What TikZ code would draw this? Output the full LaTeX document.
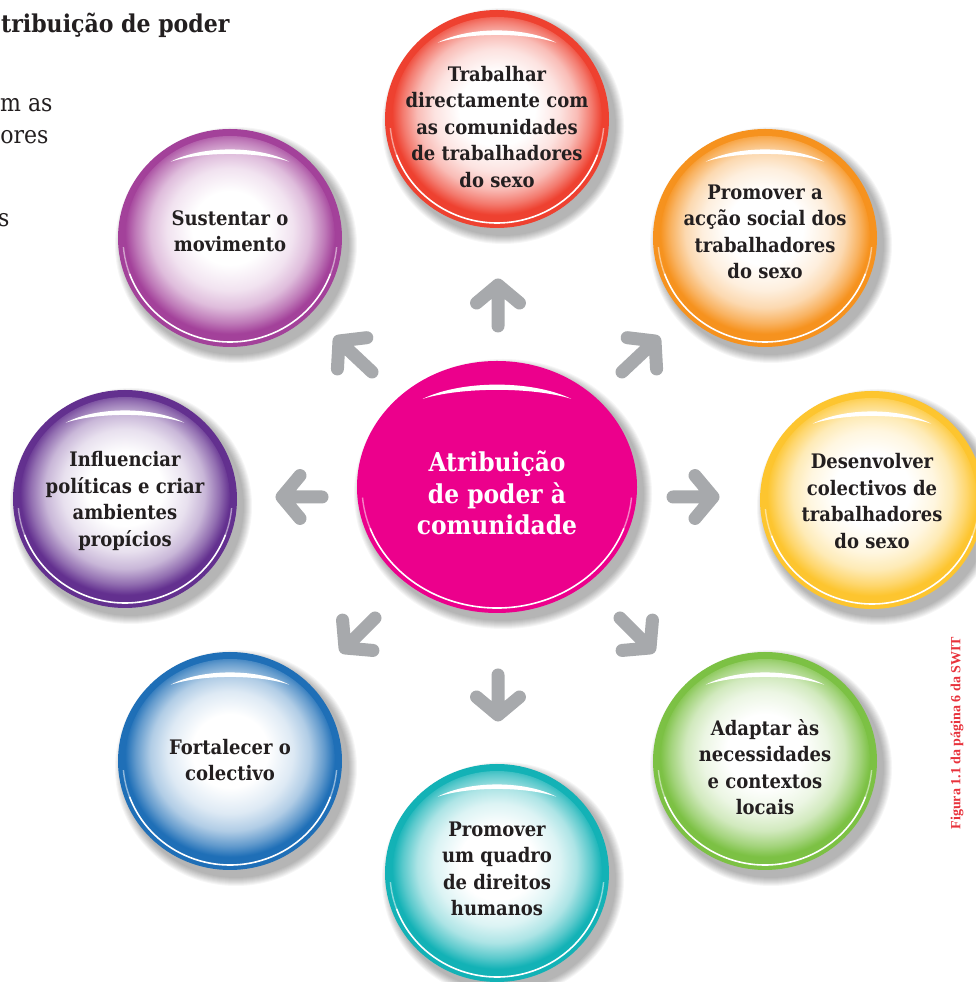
\documentclass[tikz,border=0pt]{standalone}
\usepackage{fontspec}
\setmainfont{DejaVu Serif Condensed}
\newfontfamily\capfont{Liberation Serif}
\usetikzlibrary{calc}
\definecolor{cRed}{HTML}{EE4130}
\definecolor{cOrange}{HTML}{F6921E}
\definecolor{cYellow}{HTML}{FDC52F}
\definecolor{cGreen}{HTML}{7CC144}
\definecolor{cTeal}{HTML}{13B2B6}
\definecolor{cBlue}{HTML}{1F6FB7}
\definecolor{cPurple}{HTML}{63308F}
\definecolor{cMauve}{HTML}{A3419A}
\definecolor{cMagenta}{HTML}{EC008C}
\definecolor{cGray}{HTML}{A7A9AC}
\definecolor{cCap}{HTML}{E8323C}
\definecolor{cInk}{HTML}{231F20}
\colorlet{bc}{cRed}
\pgfdeclareradialshading[bc]{bubble}{\pgfpoint{0bp}{3bp}}{color(0bp)=(white); color(9bp)=(white); color(15bp)=(bc!15!white); color(19bp)=(bc!35!white); color(22.5bp)=(bc!70!white); color(25bp)=(bc); color(50bp)=(bc)}

\newcommand{\drawbubble}[6]{% cx, cy, rx, ry, color, shaded?
  \colorlet{bc}{#5}%
  \foreach \k in {1,...,9}{\fill[black,opacity=0.035] (#1+6,#2-7) ellipse ({#3+\k} and {#4+\k});}
  \fill[bc] (#1,#2) ellipse ({#3} and {#4});
  \ifx#6y\shade[shading=bubble] (#1,#2) ellipse ({#3-7} and {#4-7});\fi
  \begin{scope}[shift={(#1,#2)}, xscale=#3, yscale=#4]
    \fill[white] (-0.53,0.70) .. controls (-0.25,0.85) and (0.25,0.85) .. (0.53,0.70)
       .. controls (0.25,0.795) and (-0.25,0.795) .. cycle;
  \end{scope}
  \draw[white, line width=1.6pt] (#1,#2) ++(200:{#3-5} and {#4-5})
     arc[start angle=200, end angle=340, x radius={#3-5}, y radius={#4-5}];
  \draw[white, opacity=0.5, line width=1.4pt] (#1,#2) ++(185:{#3-5} and {#4-5})
     arc[start angle=185, end angle=200, x radius={#3-5}, y radius={#4-5}];
  \draw[white, opacity=0.5, line width=1.4pt] (#1,#2) ++(340:{#3-5} and {#4-5})
     arc[start angle=340, end angle=355, x radius={#3-5}, y radius={#4-5}];
}

\tikzset{
  bubtext/.style={align=center, text=cInk, font=\bfseries\fontsize{20}{26.5}\selectfont},
  centext/.style={align=center, text=white, font=\bfseries\fontsize{26}{31.5}\selectfont},
  grayarrow/.style={draw=cGray, line width=13pt, line cap=round, line join=round},
  headtext/.style={anchor=east, text=cInk, font=\fontsize{24.5}{28}\selectfont}
}

\begin{document}
\begin{tikzpicture}[x=1pt,y=1pt]
\useasboundingbox (0,0) rectangle (975,982);
\fill[white] (0,0) rectangle (975,982);

% satellite bubbles
\drawbubble{497}{863}{112}{109}{cRed}{y}
\drawbubble{765}{744}{112}{109}{cOrange}{y}
\drawbubble{872}{482}{112}{109}{cYellow}{y}
\drawbubble{765}{221}{112}{109}{cGreen}{y}
\drawbubble{497}{109}{112}{109}{cTeal}{y}
\drawbubble{230}{221}{112}{109}{cBlue}{y}
\drawbubble{125}{483}{112}{109}{cPurple}{y}
\drawbubble{230}{744}{112}{109}{cMauve}{y}

% arrows
\coordinate (t1) at (498,656); \coordinate (p1) at (498,697);
\coordinate (t2) at (622,610); \coordinate (p2) at (655,641);
\coordinate (t3) at (673,485); \coordinate (p3) at (713,485);
\coordinate (t4) at (620,364); \coordinate (p4) at (650,334);
\coordinate (t5) at (498,307); \coordinate (p5) at (498,267);
\coordinate (t6) at (375,364); \coordinate (p6) at (345,334);
\coordinate (t7) at (322,485); \coordinate (p7) at (282,485);
\coordinate (t8) at (372,610); \coordinate (p8) at (339,641);
\foreach \i in {1,...,8}{
  \draw[grayarrow] (t\i) -- (p\i)
    ($(p\i)!28pt!50:(t\i)$) -- (p\i) -- ($(p\i)!28pt!-50:(t\i)$);
}

% centre bubble
\drawbubble{497}{495}{140}{126}{cMagenta}{n}

% texts
\node[bubtext] (b1) at (497,855) {Trabalhar\\directamente com\\as comunidades\\de trabalhadores\\do sexo};
\node[bubtext] (b2) at (765,750) {Promover a\\acção social dos\\trabalhadores\\do sexo};
\node[bubtext] (b3) at (872,481) {Desenvolver\\colectivos de\\trabalhadores\\do sexo};
\node[bubtext] (b4) at (765,215) {Adaptar às\\necessidades\\e contextos\\locais};
\node[bubtext] (b5) at (497,113) {Promover\\um quadro\\de direitos\\humanos};
\node[bubtext] (b6) at (230,222) {Fortalecer o\\colectivo};
\node[bubtext] (b7) at (125,481) {Influenciar\\políticas e criar\\ambientes\\propícios};
\node[bubtext] (b8) at (230,751) {Sustentar o\\movimento};
\node[centext] (c) at (497,489) {Atribuição\\de poder à\\comunidade};

\node[headtext, font=\bfseries\fontsize{24.5}{28}\selectfont] (h1) at (233,957) {tribuição de poder};
\node[headtext] (h2) at (56,877) {m as};
\node[headtext] (h3) at (52,845) {ores};
\node[headtext] (h4) at (13,762) {s};

\node[rotate=90, text=cCap, font=\capfont\bfseries\fontsize{14}{16}\selectfont] (cap) at (957,249) {Figura 1.1 da página 6 da SWIT};
\end{tikzpicture}
\end{document}
